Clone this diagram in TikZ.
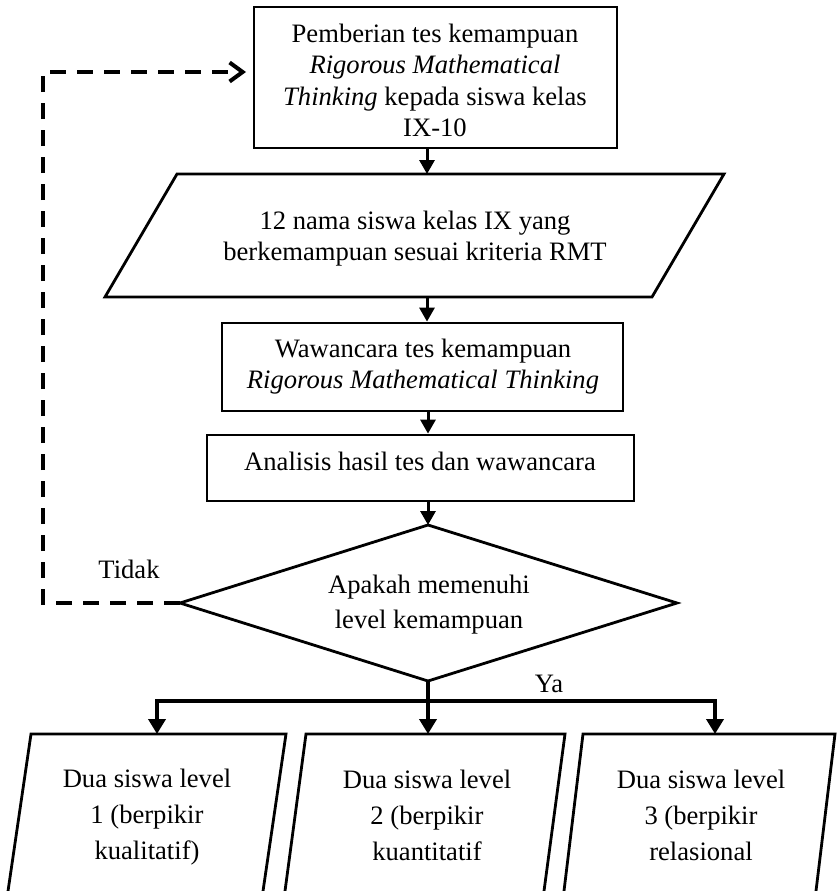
\documentclass[tikz,border=0pt]{standalone}
\usepackage{fontspec}
\setmainfont{Liberation Serif}
\usetikzlibrary{arrows.meta}
\begin{document}
\begin{tikzpicture}[x=1pt,y=-1pt,
  outline/.style={draw=black,line width=2.8pt,line join=miter},
  txt/.style={font=\fontsize{26.6}{31.5}\selectfont,align=center,inner sep=0pt},
  txtd/.style={font=\fontsize{26.6}{35}\selectfont,align=center,inner sep=0pt},
  txtb/.style={font=\fontsize{26.6}{36}\selectfont,align=center,inner sep=0pt},
  flow/.style={line width=3pt,-{Triangle[length=14pt,width=15pt]}},
  busarrow/.style={line width=4.5pt,line join=miter,-{Triangle[length=15pt,width=17pt]}},
  back/.style={line width=4pt,dash pattern=on 16pt off 11pt,-{Straight Barb[length=13pt,width=19pt]}},
]
\clip (0,0) rectangle (838,891);
\fill[white] (0,0) rectangle (838,891);

% box 1
\node[outline,rectangle,minimum width=363pt,minimum height=141pt,inner sep=0pt] (b1) at (435.5,77.5) {};
\node[txt] (t1) at (435,80.4) {Pemberian tes kemampuan\\\textit{Rigorous Mathematical}\\\textit{Thinking} kepada siswa kelas\\IX-10};

% parallelogram 2
\draw[outline] (177,174) -- (724,174) -- (652,297) -- (105,297) -- cycle;
\coordinate (p2top) at (427,174);
\coordinate (p2bot) at (427,297);
\node[txt] (t2) at (415,238.5) {12 nama siswa kelas IX yang\\berkemampuan sesuai kriteria RMT};

% box 3
\node[outline,rectangle,minimum width=401pt,minimum height=88pt,inner sep=0pt] (b3) at (422.5,367) {};
\node[txt] (t3) at (423,366.5) {Wawancara tes kemampuan\\\textit{Rigorous Mathematical Thinking}};

% box 4
\node[outline,rectangle,minimum width=427pt,minimum height=66pt,inner sep=0pt] (b4) at (420.5,468) {};
\node[txt,anchor=base] (t4) at (420,470) {Analisis hasil tes dan wawancara};

% diamond
\coordinate (dtop) at (428,525);
\coordinate (dright) at (677,603);
\coordinate (dbot) at (428,681);
\coordinate (dleft) at (180,603);
\draw[outline] (dtop) -- (dright) -- (dbot) -- (dleft) -- cycle;
\node[txtd] (t5) at (429,604.3) {Apakah memenuhi\\level kemampuan};

% bottom parallelograms (cut off by the page edge)
\draw[outline] (6.7,900) -- (31,734) -- (286,734) -- (261.7,900);
\draw[outline] (283.8,900) -- (306,734) -- (565,734) -- (542.8,900);
\draw[outline] (562.9,900) -- (583,734) -- (835,734) -- (814.9,900);
\coordinate (qAtop) at (157,734);
\coordinate (qBtop) at (428,734);
\coordinate (qCtop) at (715,734);
\node[txtb] (tA) at (147,817.3) {Dua siswa level\\1 (berpikir\\kualitatif)};
\node[txtb] (tB) at (427,814.9) {Dua siswa level\\2 (berpikir\\kuantitatif};
\node[txtb] (tC) at (701,814.9) {Dua siswa level\\3 (berpikir\\relasional};

% connectors
\draw[flow] (b1.south -| p2top) -- (p2top);
\draw[flow] (p2bot) -- (b3.north -| p2bot);
\draw[flow] (b3.south -| dtop) -- (b4.north -| dtop);
\draw[flow] (b4.south -| dtop) -- (dtop);

\coordinate (busC) at (428,701);
\draw[busarrow] (dbot) -- (qBtop);
\draw[busarrow] (busC) -| (qAtop);
\draw[busarrow] (busC) -| (qCtop);

\coordinate (dtip) at (246,72);
\draw[back] (dleft) -- (43,603) -- (43,72) -- (dtip);

\node[txt,anchor=base] (tidak) at (129,578) {Tidak};
\node[txt,anchor=base] (ya) at (549,692) {Ya};
\end{tikzpicture}
\end{document}
